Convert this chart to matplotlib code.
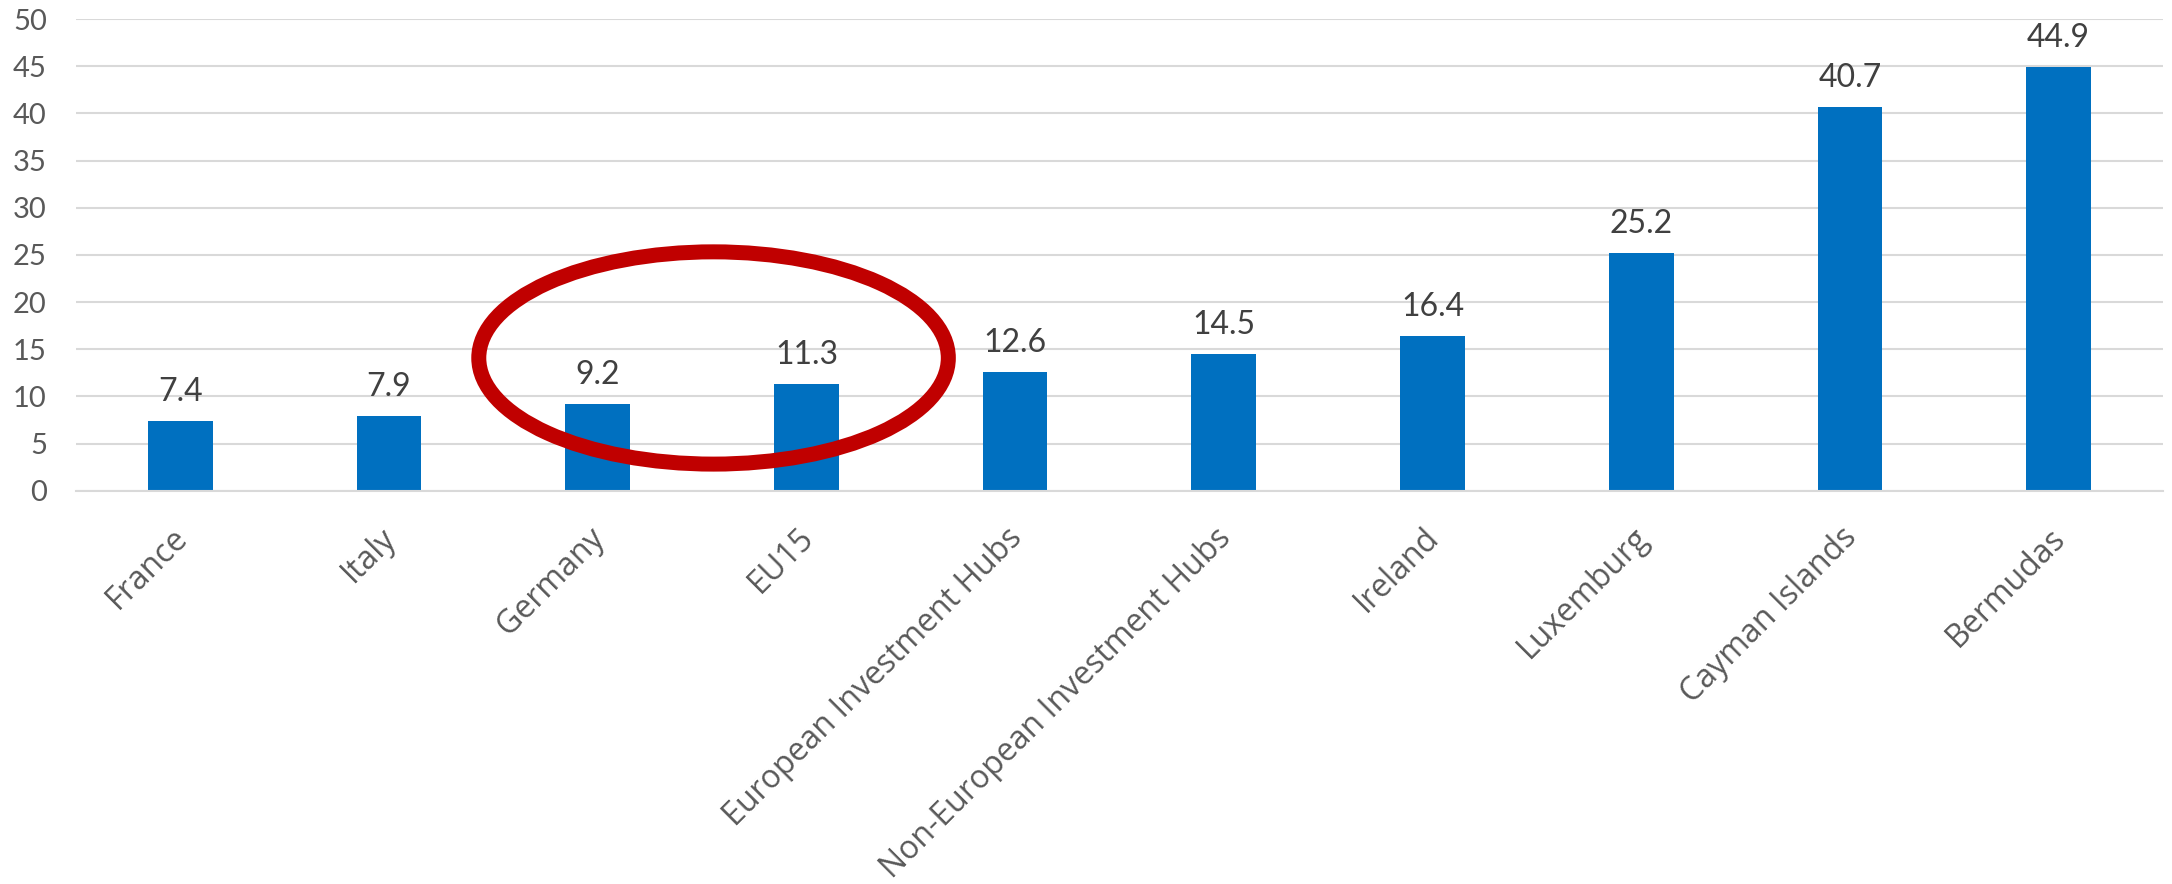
"""
Bar chart: values by country / investment hub group, with EU15 vs Germany circled.
Output: out.png
"""
import matplotlib
matplotlib.use('Agg')
import matplotlib.pyplot as plt
import matplotlib.transforms as mtransforms
from matplotlib.patches import Ellipse

# === Data ===
categories = ['France', 'Italy', 'Germany', 'EU15', 'European Investment Hubs',
              'Non-European Investment Hubs', 'Ireland', 'Luxemburg',
              'Cayman Islands', 'Bermudas']
values = [7.4, 7.9, 9.2, 11.3, 12.6, 14.5, 16.4, 25.2, 40.7, 44.9]
y_ticks = [0, 5, 10, 15, 20, 25, 30, 35, 40, 45, 50]

# highlight ellipse (data coords: category index, value)
ell_center = (2.555, 14.07)
ell_size = (2.25, 22.5)

bar_color = '#0070C0'
grid_color = '#D9D9D9'

# === Figure ===
fig = plt.figure(figsize=(21.72, 8.84), dpi=100)
ax = fig.add_axes([0.035, 0.4449, 0.9608, 0.5336])

x = list(range(len(categories)))
ax.bar(x, values, width=0.31, color=bar_color, zorder=2)

ax.set_xlim(-0.5, len(categories) - 0.5)
ax.set_ylim(0, 50)
ax.set_yticks(y_ticks)
ax.set_yticklabels([str(t) for t in y_ticks], fontfamily='Lato', fontsize=21, color='#595959')
ax.tick_params(axis='y', length=0, pad=21)
ax.yaxis.grid(True, color=grid_color, linewidth=1.5, zorder=0)
ax.set_axisbelow(True)

for s in ['top', 'right', 'left']:
    ax.spines[s].set_visible(False)
ax.spines['bottom'].set_color(grid_color)
ax.spines['bottom'].set_linewidth(1.5)

ax.set_xticks(x)
ax.set_xticklabels(categories, rotation=45, ha='right', fontfamily='Open Sans',
                   fontsize=23, color='#595959')
ax.tick_params(axis='x', length=0, pad=22)
shift = mtransforms.ScaledTranslation(10 / 72, 0, fig.dpi_scale_trans)
for lab in ax.get_xticklabels():
    lab.set_transform(lab.get_transform() + shift)

# data labels
for xi, v in zip(x, values):
    ax.annotate(f'{v:.1f}', (xi, v), xytext=(0, 10), textcoords='offset points',
                ha='center', va='bottom', fontfamily='Lato', fontsize=23, color='#404040')

# red ellipse around Germany / EU15
ax.add_patch(Ellipse(ell_center, ell_size[0], ell_size[1], fill=False,
                     edgecolor='#C00000', linewidth=10.8, zorder=5, clip_on=False))

fig.savefig('out.png', dpi=100, facecolor='white')
plt.close()
